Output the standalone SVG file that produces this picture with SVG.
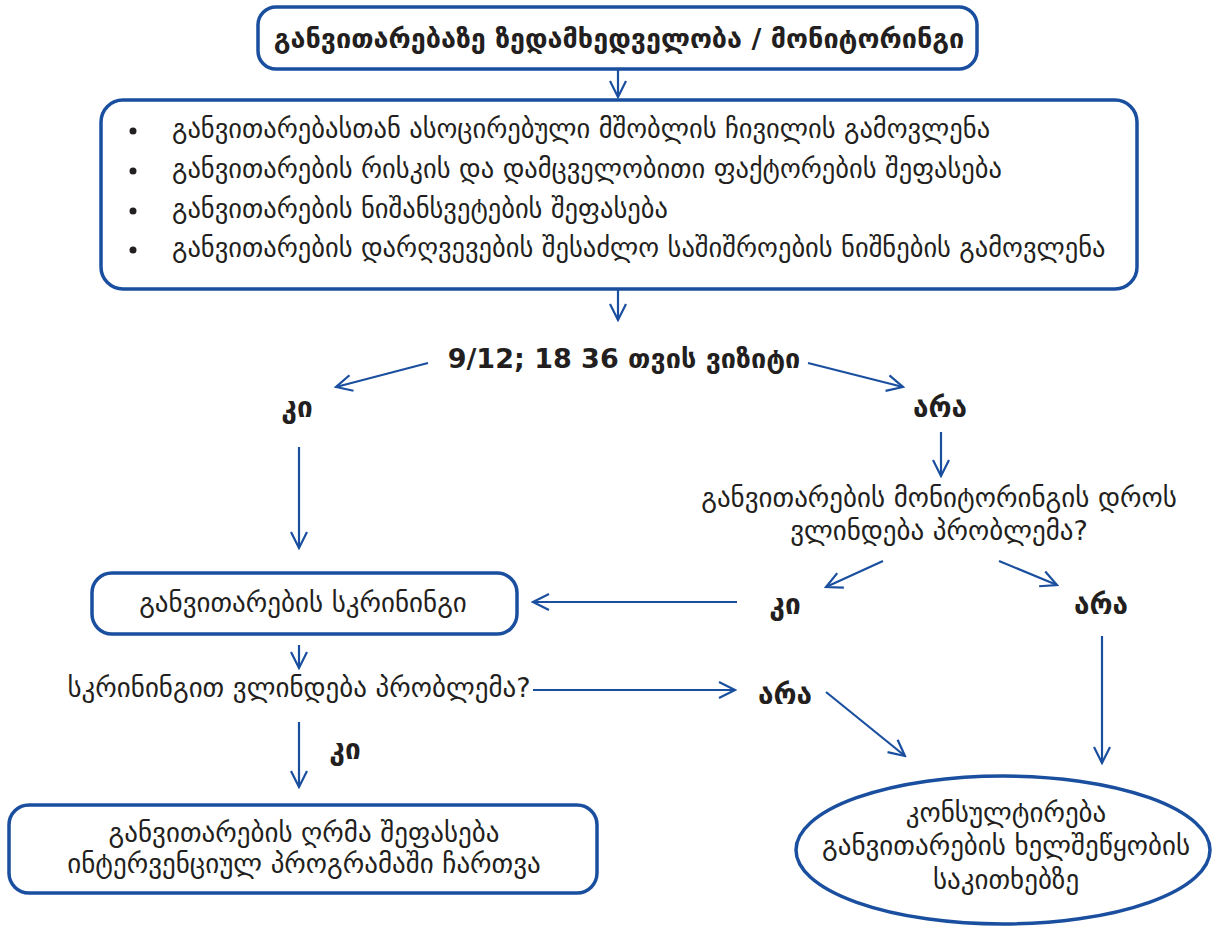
<svg xmlns="http://www.w3.org/2000/svg" width="1212" height="928" viewBox="0 0 1212 928">
<defs>
<marker id="ah" viewBox="0 0 20 20" refX="18" refY="10" markerWidth="20" markerHeight="20" markerUnits="userSpaceOnUse" orient="auto">
<path d="M2,2 L18,10 L2,18" fill="none" stroke="#1a4f9f" stroke-width="2.2"/>
</marker>
<style>
.box{fill:#fff;stroke:#1a4f9f;stroke-width:3.5}
.t{font-family:"DejaVu Sans","Noto Sans",sans-serif;fill:#231f20;font-size:27px}
.b{font-weight:bold}
.c{text-anchor:middle}
.bl{font-size:26.5px}
.lb{font-size:28px;font-weight:bold;text-anchor:middle}
.ln{stroke:#1a4f9f;stroke-width:2.2;fill:none;marker-end:url(#ah)}
</style>
</defs>
<rect width="1212" height="928" fill="#fff"/>
<g id="connectors">
<line class="ln" x1="618" y1="69" x2="618" y2="97"/>
<line class="ln" x1="618" y1="289" x2="618" y2="320"/>
<line class="ln" x1="428" y1="363" x2="336" y2="387"/>
<line class="ln" x1="808" y1="363" x2="903" y2="387"/>
<line class="ln" x1="299" y1="447" x2="299" y2="548"/>
<line class="ln" x1="941" y1="432" x2="941" y2="476"/>
<line class="ln" x1="883" y1="561" x2="826" y2="587"/>
<line class="ln" x1="999" y1="561" x2="1057" y2="585"/>
<line class="ln" x1="737" y1="602" x2="533" y2="602"/>
<line class="ln" x1="299" y1="645" x2="299" y2="668"/>
<line class="ln" x1="533" y1="690" x2="735" y2="690"/>
<line class="ln" x1="826" y1="692" x2="905" y2="756"/>
<line class="ln" x1="1102" y1="636" x2="1102" y2="763"/>
<line class="ln" x1="299" y1="722" x2="299" y2="787"/>
</g>
<g id="title">
<rect class="box" x="258" y="7" width="719" height="62" rx="18"/>
<text class="t b c" x="619" y="48" font-size="26.5">განვითარებაზე ზედამხედველობა / მონიტორინგი</text>
</g>
<g id="tasks">
<rect class="box" x="101" y="100" width="1036" height="189" rx="22"/>
<circle cx="133" cy="131" r="3.5" fill="#231f20"/>
<circle cx="133" cy="171" r="3.5" fill="#231f20"/>
<circle cx="133" cy="211" r="3.5" fill="#231f20"/>
<circle cx="133" cy="250" r="3.5" fill="#231f20"/>
<text class="t bl" x="172" y="138">განვითარებასთან ასოცირებული მშობლის ჩივილის გამოვლენა</text>
<text class="t bl" x="172" y="178">განვითარების რისკის და დამცველობითი ფაქტორების შეფასება</text>
<text class="t bl" x="172" y="218">განვითარების ნიშანსვეტების შეფასება</text>
<text class="t bl" x="172" y="257">განვითარების დარღვევების შესაძლო საშიშროების ნიშნების გამოვლენა</text>
</g>
<g id="visit">
<text class="t b c" x="624" y="368" font-size="29.5">9/12; 18 36 თვის ვიზიტი</text>
</g>
<g id="yes1"><text class="t lb" x="297" y="417">კი</text></g>
<g id="no1"><text class="t lb" x="940" y="417">არა</text></g>
<g id="monitorq">
<text class="t c" x="939" y="507" font-size="26.5">განვითარების მონიტორინგის დროს</text>
<text class="t c" x="939" y="540" font-size="26.5">ვლინდება პრობლემა?</text>
</g>
<g id="yes2"><text class="t lb" x="785" y="614">კი</text></g>
<g id="no2"><text class="t lb" x="1101" y="614">არა</text></g>
<g id="screening">
<rect class="box" x="92" y="573" width="425" height="61" rx="20"/>
<text class="t c" x="303" y="612">განვითარების სკრინინგი</text>
</g>
<g id="screenq">
<text class="t c" x="299" y="697">სკრინინგით ვლინდება პრობლემა?</text>
</g>
<g id="no3"><text class="t lb" x="785" y="704">არა</text></g>
<g id="yes3"><text class="t lb" x="345" y="759">კი</text></g>
<g id="deep">
<rect class="box" x="9" y="805" width="588" height="88" rx="20"/>
<text class="t c" x="304" y="842" font-size="28">განვითარების ღრმა შეფასება</text>
<text class="t c" x="304" y="873" font-size="28">ინტერვენციულ პროგრამაში ჩართვა</text>
</g>
<g id="consult">
<ellipse class="box" cx="1003" cy="850" rx="207" ry="74"/>
<text class="t c" x="1006" y="822" font-size="26.5">კონსულტირება</text>
<text class="t c" x="1006" y="855" font-size="26.5">განვითარების ხელშეწყობის</text>
<text class="t c" x="1006" y="889" font-size="26.5">საკითხებზე</text>
</g>
</svg>
